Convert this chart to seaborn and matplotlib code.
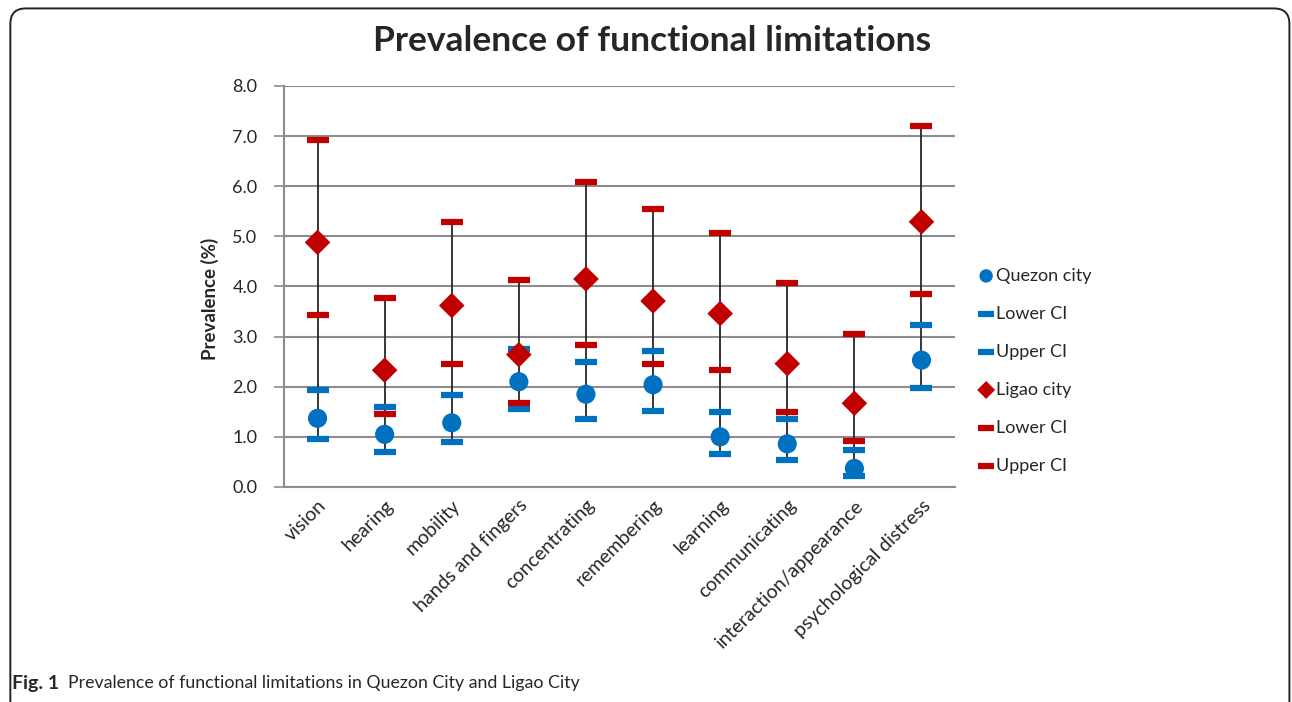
import numpy as np
import pandas as pd
import matplotlib.pyplot as plt
import seaborn as sns
from matplotlib.patches import FancyBboxPatch

categories = ["vision", "hearing", "mobility", "hands and fingers", "concentrating",
              "remembering", "learning", "communicating", "interaction/appearance",
              "psychological distress"]
quezon = [1.37, 1.05, 1.28, 2.10, 1.85, 2.04, 1.00, 0.86, 0.37, 2.53]
quezon_low = [0.95, 0.70, 0.89, 1.55, 1.36, 1.52, 0.66, 0.54, 0.21, 1.97]
quezon_up = [1.94, 1.59, 1.84, 2.75, 2.49, 2.71, 1.49, 1.36, 0.73, 3.24]
ligao = [4.88, 2.33, 3.62, 2.64, 4.15, 3.71, 3.46, 2.46, 1.67, 5.29]
ligao_low = [3.44, 1.46, 2.46, 1.68, 2.84, 2.46, 2.34, 1.49, 0.92, 3.85]
ligao_up = [6.93, 3.78, 5.29, 4.13, 6.08, 5.54, 5.07, 4.06, 3.06, 7.21]

blue = "#0070C0"
red = "#C00000"
grid_col = "#8C8C8C"

df = pd.DataFrame({"cat": categories, "q": quezon, "ql": quezon_low, "qu": quezon_up,
                   "l": ligao, "ll": ligao_low, "lu": ligao_up})
df["lo"] = df[["q", "ql", "qu", "l", "ll", "lu"]].min(axis=1)
df["hi"] = df[["q", "ql", "qu", "l", "ll", "lu"]].max(axis=1)

sns.set_style("white")
plt.rcParams["font.family"] = ["Lato", "DejaVu Sans"]

fig = plt.figure(figsize=(12.92, 7.02), dpi=100)
ax = fig.add_axes([0.2198, 0.3063, 0.5194, 0.5712])

x = np.arange(len(categories))
# high-low lines
ax.vlines(x, df["lo"], df["hi"], color="#262626", linewidth=1.3, zorder=2)

cap = dict(marker="_", s=260, linewidth=4.5, zorder=3)
sns.scatterplot(x=x, y=df["q"], color=blue, marker="o", s=190, edgecolor="none",
                label="Quezon city", ax=ax, zorder=4)
sns.scatterplot(x=x, y=df["ql"], color=blue, label="Lower CI", ax=ax, **cap)
sns.scatterplot(x=x, y=df["qu"], color=blue, label="Upper CI", ax=ax, **cap)
sns.scatterplot(x=x, y=df["l"], color=red, marker="D", s=170, edgecolor="none",
                label="Ligao city", ax=ax, zorder=5)
sns.scatterplot(x=x, y=df["ll"], color=red, label="Lower CI", ax=ax, **cap)
sns.scatterplot(x=x, y=df["lu"], color=red, label="Upper CI", ax=ax, **cap)

ax.set_xlim(-0.5, len(categories) - 0.5)
ax.set_ylim(0, 8)
ax.set_yticks(np.arange(0, 9, 1))
ax.set_yticklabels([f"{v:.1f}" for v in range(9)], fontsize=13)
ax.set_xticks(x)
ax.set_xticklabels(categories, rotation=45, ha="right", rotation_mode="anchor", fontsize=14)
ax.set_xticks(np.arange(-0.5, len(categories), 1), minor=True)
ax.tick_params(axis="x", which="major", length=0, pad=7)
ax.tick_params(axis="x", which="minor", length=7, color=grid_col, width=1.2, direction="out")
ax.tick_params(axis="y", length=7, color=grid_col, width=1.2, direction="out", left=True, pad=12)
ax.yaxis.grid(True, color=grid_col, linewidth=1.5)
ax.set_axisbelow(True)
for s in ["top", "right"]:
    ax.spines[s].set_visible(False)
for s in ["left", "bottom"]:
    ax.spines[s].set_color(grid_col)
    ax.spines[s].set_linewidth(1.5)
ax.set_xlabel("")
ax.set_ylabel("Prevalence (%)", fontsize=13.5, fontweight="bold")
ax.yaxis.set_label_coords(-0.097, 0.47)

leg = ax.legend(loc="center left", bbox_to_anchor=(1.01, 0.29), frameon=False,
                fontsize=13, labelspacing=1.22, handletextpad=0.1, handlelength=0.9,
                markerscale=0.7)

fig.text(0.505, 0.941, "Prevalence of functional limitations", ha="center", va="center",
         fontsize=25.5, fontweight="bold")
fig.text(0.0095, 0.027, "Fig. 1", ha="left", va="center", fontsize=14, fontweight="bold")
fig.text(0.0525, 0.027, "Prevalence of functional limitations in Quezon City and Ligao City",
         ha="left", va="center", fontsize=12.8)

frame = FancyBboxPatch((0.008, -0.1), 0.99, 1.088, boxstyle="round,pad=0,rounding_size=0.012",
                       transform=fig.transFigure, fill=False, edgecolor="#222222",
                       linewidth=1.4, mutation_aspect=1.84)
fig.patches.append(frame)

fig.savefig("out.png", dpi=100)
